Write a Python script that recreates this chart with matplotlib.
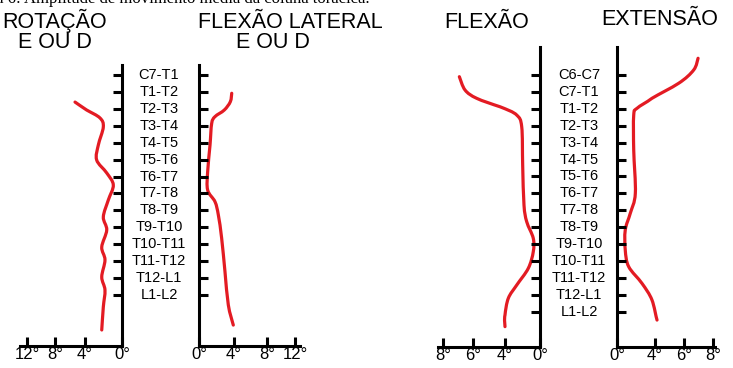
import numpy as np
import matplotlib
matplotlib.use('Agg')
import matplotlib.pyplot as plt
from matplotlib.path import Path
from matplotlib.patches import PathPatch
from matplotlib.transforms import blended_transform_factory

plt.rcParams['font.family'] = ['Liberation Sans', 'DejaVu Sans']

# Níveis vertebrais
niveis_esq = ['C7-T1', 'T1-T2', 'T2-T3', 'T3-T4', 'T4-T5', 'T5-T6', 'T6-T7',
              'T7-T8', 'T8-T9', 'T9-T10', 'T10-T11', 'T11-T12', 'T12-L1', 'L1-L2']
niveis_dir = ['C6-C7'] + niveis_esq

# Curvas (posição no eixo dos níveis, graus)
rot_pos = [1.60, 2.07, 2.54, 3.07, 4.14, 5.02, 5.79, 6.50, 7.39, 8.39, 9.16,
           10.17, 10.93, 11.94, 12.71, 13.71, 15.07]
rot_deg = [5.33, 3.82, 2.38, 2.02, 2.56, 2.74, 1.65, 0.94, 1.48, 2.02, 1.65,
           2.19, 1.84, 2.19, 1.84, 2.02, 2.19]

lat_pos = [1.08, 1.58, 2.07, 2.46, 2.86, 4.14, 5.71, 6.80, 7.49, 8.27, 9.65,
           11.63, 13.59, 14.78]
lat_deg = [3.74, 3.58, 2.89, 1.83, 1.45, 1.26, 0.99, 0.99, 1.83, 2.21, 2.59,
           2.97, 3.35, 3.92]

flex_pos = [0.10, 0.89, 1.38, 1.88, 2.37, 3.06, 5.33, 7.69, 8.68, 9.66, 10.46,
            11.44, 12.43, 13.21, 14.20, 14.89]
flex_deg = [6.91, 6.53, 5.77, 4.31, 2.66, 2.09, 1.98, 1.83, 1.52, 0.77, 0.77,
            1.34, 2.66, 3.62, 4.0, 4.0]

ext_pos = [-0.99, -0.30, 0.49, 1.38, 1.97, 2.37, 4.44, 7.0, 8.18, 9.17, 10.36,
           11.34, 12.33, 13.31, 14.50]
ext_deg = [6.97, 6.67, 5.63, 3.68, 2.11, 1.76, 1.76, 1.93, 1.40, 0.87, 0.87,
           1.23, 2.63, 3.68, 4.14]

W, H = 733, 368
fig = plt.figure(figsize=(W / 100, H / 100), dpi=100)
VERMELHO = '#e31b23'
LW = 2.2


def curva_suave(ax, xs, ys):
    # curva de Bézier (Catmull-Rom) que passa pelos pontos lidos
    p = np.column_stack([xs, ys]).astype(float)
    p_ext = np.vstack([p[0], p, p[-1]])
    verts = [p[0]]
    codes = [Path.MOVETO]
    for k in range(1, len(p_ext) - 2):
        p0, p1, p2, p3 = p_ext[k - 1], p_ext[k], p_ext[k + 1], p_ext[k + 2]
        verts += [p1 + (p2 - p0) / 6, p2 - (p3 - p1) / 6, p2]
        codes += [Path.CURVE4] * 3
    patch = PathPatch(Path(verts, codes), facecolor='none', edgecolor=VERMELHO,
                      lw=2.3, capstyle='round', joinstyle='round', clip_on=False)
    ax.add_patch(patch)


def painel(x0, x1, y0, y1, graus, px, ticks, ylim, n_ticks, lado, pos, deg):
    ax = fig.add_axes([x0 / W, 1 - y1 / H, (x1 - x0) / W, (y1 - y0) / H])
    ax.set_xscale('function', functions=(lambda d: np.interp(d, graus, px),
                                         lambda p: np.interp(p, px, graus)))
    if lado == 'right':
        ax.set_xlim(graus[-1], 0)
    else:
        ax.set_xlim(0, graus[-1])
    ax.set_ylim(*ylim)
    for s in ['top', 'left', 'right']:
        ax.spines[s].set_visible(s == lado)
    for s in ax.spines.values():
        s.set_linewidth(LW)
    ax.set_xticks(ticks)
    ax.set_xticklabels([f'{t}°' for t in ticks], fontsize=12)
    ax.set_xticks([], minor=True)
    ax.set_yticks(range(n_ticks))
    if lado == 'right':
        ax.yaxis.tick_right()
    ax.tick_params(axis='both', direction='in', length=6.5, width=LW,
                   labelleft=False, labelright=False, pad=1)
    ax.patch.set_alpha(0)
    curva_suave(ax, deg, pos)
    return ax


ylim_esq = ((346 - 75) / 16.92, (65 - 75) / 16.92)
ylim_dir = ((347 - 75) / 16.9, (47 - 75) / 16.9)

ax_rot = painel(20, 122, 65, 346, [0, 4, 8, 12, 13], [0, 37, 67, 95, 102],
                [12, 8, 4, 0], ylim_esq, 14, 'right', rot_pos, rot_deg)
ax_lat = painel(199, 300, 65, 346, [0, 4, 8, 12, 13], [0, 35, 68, 96, 101],
                [0, 4, 8, 12], ylim_esq, 14, 'left', lat_pos, lat_deg)
ax_flex = painel(438, 540, 47, 347, [0, 4, 6, 8, 8.5], [0, 35, 67, 97, 102],
                 [8, 6, 4, 0], ylim_dir, 15, 'right', flex_pos, flex_deg)
ax_ext = painel(617, 715, 47, 347, [0, 4, 6, 8, 8.2], [0, 38, 67, 96, 98],
                [0, 4, 6, 8], ylim_dir, 15, 'left', ext_pos, ext_deg)

# Rótulos dos níveis entre os eixos
tr = blended_transform_factory(fig.transFigure, ax_rot.transData)
for i, nome in enumerate(niveis_esq):
    fig.text(159 / W, i, nome, transform=tr, ha='center', va='center', fontsize=10.5)
tr = blended_transform_factory(fig.transFigure, ax_flex.transData)
for i, nome in enumerate(niveis_dir):
    fig.text(579 / W, i, nome, transform=tr, ha='center', va='center', fontsize=10.5)

# Títulos
def titulo(x, y, s):
    fig.text(x / W, 1 - y / H, s, ha='center', va='baseline', fontsize=15.5)

titulo(55, 28, 'ROTAÇÃO')
titulo(55, 48, 'E OU D')
titulo(290, 28, 'FLEXÃO LATERAL')
titulo(273, 48, 'E OU D')
titulo(487, 28, 'FLEXÃO')
titulo(660, 25, 'EXTENSÃO')

# Legenda da figura, cortada no topo como no original
fig.text(370 / W, 1 - 3 / H, 'Figura 6: Amplitude de movimento média da coluna torácica.',
         ha='right', va='baseline', fontsize=12, family='Liberation Serif')

fig.savefig('out.png', dpi=100)
